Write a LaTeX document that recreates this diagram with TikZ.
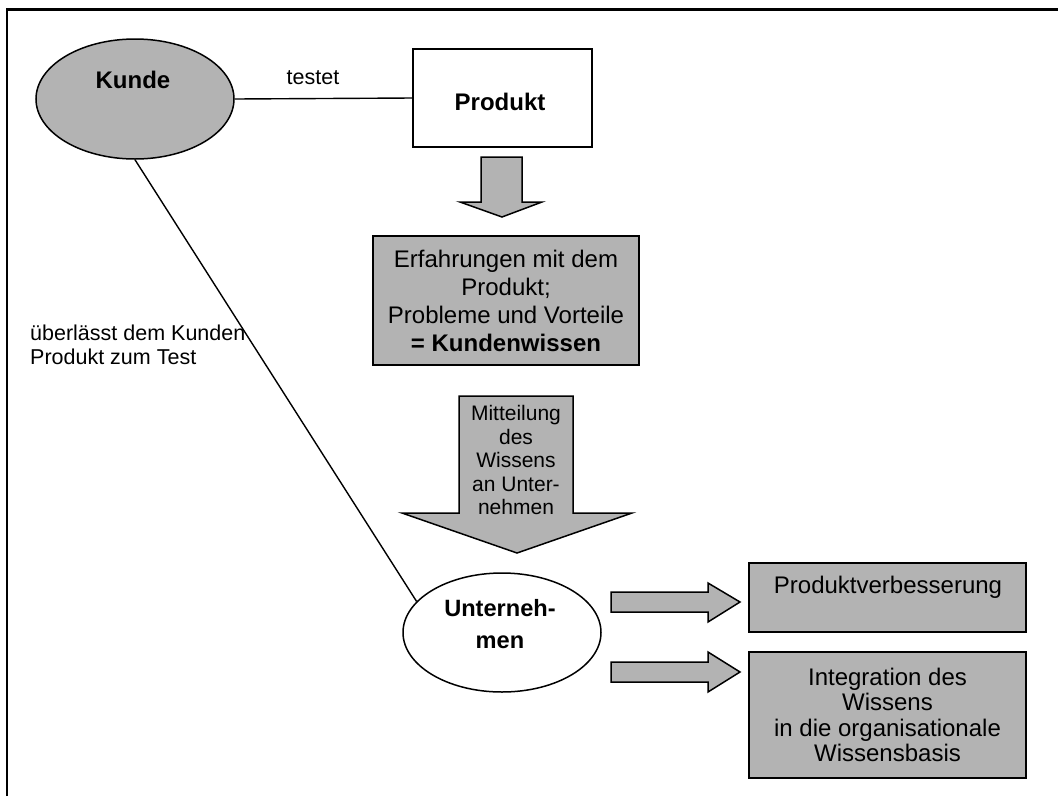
\documentclass[tikz,border=0pt]{standalone}
\usepackage{fontspec}
\setmainfont{Liberation Sans}
\usetikzlibrary{shapes.geometric}
\definecolor{boxgray}{RGB}{179,179,179}
\tikzset{
  outline/.style={draw=black, line width=1.5pt},
  grayell/.style={outline, ellipse, fill=boxgray, inner sep=0pt, minimum width=198pt, minimum height=120pt},
  whiteell/.style={outline, ellipse, fill=white, inner sep=0pt, minimum width=198pt, minimum height=119pt},
  whitebox/.style={outline, rectangle, fill=white, inner sep=0pt},
  graybox/.style={outline, rectangle, fill=boxgray, inner sep=0pt, align=center},
  blockarrow/.style={outline, fill=boxgray, line join=miter},
  link/.style={draw=black, line width=1.4pt},
  txt/.style={inner sep=0pt, text=black},
  big/.style={font=\fontsize{24}{28}\selectfont},
  small/.style={font=\fontsize{21.5}{24}\selectfont},
}
\begin{document}
\begin{tikzpicture}[x=1pt, y=-1pt]
\useasboundingbox (0,0) rectangle (1058,796);
% outer frame
\draw[line width=2.4pt] (7,796) -- (7,9.5) -- (1058,9.5);

% main nodes
\node[grayell] (kunde) at (135,99) {};
\node[whitebox, minimum width=179pt, minimum height=98pt] (produkt) at (502.5,98) {};
\node[graybox, minimum width=266pt, minimum height=129pt, big] (wissen) at (506,300.5)
  {Erfahrungen mit dem\\Produkt;\\Probleme und Vorteile\\\textbf{= Kundenwissen}};
\node[whiteell] (firma) at (502,632.5) {};
\node[graybox, minimum width=277pt, minimum height=69pt] (verb) at (887.5,597.5) {};
\node[graybox, minimum width=277pt, minimum height=126pt, font=\fontsize{24}{25.3}\selectfont] (integ) at (887.5,715)
  {Integration des\\Wissens\\in die organisationale\\Wissensbasis};

% texts
\node[txt, big] (kundetxt) at (133,80) {\textbf{Kunde}};
\node[txt, big] (produkttxt) at (500,102) {\textbf{Produkt}};
\node[txt, small] (testet) at (313,78) {testet};
\node[txt, small, anchor=west, align=left] (ueberl) at (30,345)
  {überlässt dem Kunden\\Produkt zum Test};
\node[txt, align=center, font=\fontsize{23.6}{32}\selectfont] (firmatxt) at (500,624)
  {\textbf{Unterneh-}\\\textbf{men}};
\node[txt, big] (verbtxt) at (888,587) {Produktverbesserung};

% connectors
\draw[link] (kunde.east) -- (produkt.west);
\draw[link] (kunde.south) -- (firma.160);

% block arrows
\draw[blockarrow] (481,157) -- (522,157) -- (522,202) -- (542,202) -- (502,217)
  -- (460,202) -- (481,202) -- cycle;
\draw[blockarrow] (459,396) -- (573,396) -- (573,513) -- (632,513) -- (517,553)
  -- (402,513) -- (459,513) -- cycle;
\node[txt, align=center, font=\fontsize{21}{23.5}\selectfont] (mitteil) at (516,460)
  {Mitteilung\\des\\Wissens\\an Unter-\\nehmen};
\draw[blockarrow] (611,592) -- (708,592) -- (708,583) -- (740,602) -- (708,622)
  -- (708,612) -- (611,612) -- cycle;
\draw[blockarrow] (611,662) -- (708,662) -- (708,652) -- (740,672) -- (708,692)
  -- (708,682) -- (611,682) -- cycle;
\end{tikzpicture}
\end{document}
